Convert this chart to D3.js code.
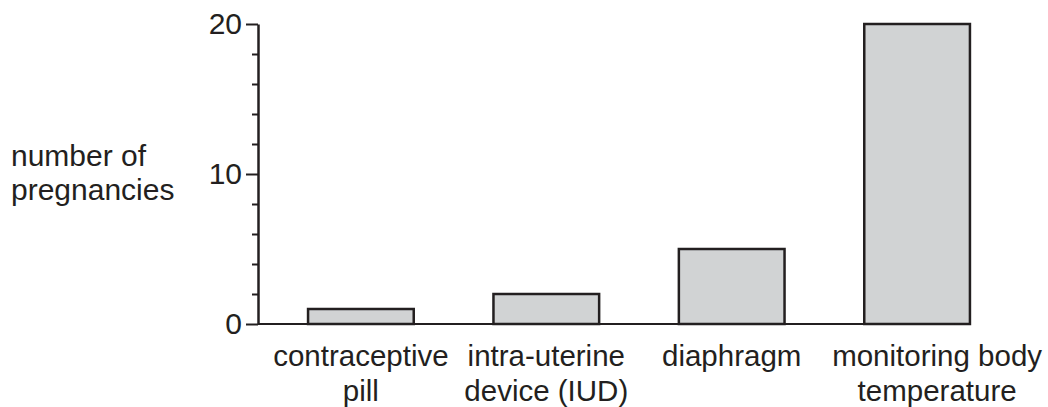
<!DOCTYPE html>
<html>
<head>
<meta charset="utf-8">
<script src="https://cdn.jsdelivr.net/npm/d3@7"></script>
<style>
  body { margin: 0; background: #fff; }
  svg text { font-family: "Liberation Sans", Arial, sans-serif; fill: #231f20; }
</style>
</head>
<body>
<div id="chart"></div>
<script>
// data
var methods = [
  ["contraceptive", "pill"],
  ["intra-uterine", "device (IUD)"],
  ["diaphragm"],
  ["monitoring body", "temperature"]
];
var pregnancies = [1, 2, 5, 20];
var yTicks = [0, 10, 20];
var yMinorTicks = [2, 4, 6, 8, 12, 14, 16, 18];
var yLabel = ["number of", "pregnancies"];

var width = 1048, height = 407;
var ink = "#231f20";

var svg = d3.select("#chart")
  .append("svg")
  .attr("width", width)
  .attr("height", height);

var x = d3.scaleBand()
  .domain(d3.range(methods.length))
  .range([258, 1020])
  .paddingInner(0.43)
  .paddingOuter(0.27);

var y = d3.scaleLinear()
  .domain([0, 20])
  .range([324, 24]);

// bars
svg.selectAll(".bar")
  .data(pregnancies)
  .enter()
  .append("rect")
  .attr("class", "bar")
  .attr("x", (d, i) => x(i))
  .attr("y", (d) => y(d))
  .attr("width", x.bandwidth())
  .attr("height", (d) => y(0) - y(d))
  .attr("fill", "#d1d3d4")
  .attr("stroke", ink)
  .attr("stroke-width", 2.5);

// x baseline
svg.append("line")
  .attr("x1", 258)
  .attr("x2", x(methods.length - 1) + x.bandwidth() * 0.85)
  .attr("y1", y(0))
  .attr("y2", y(0))
  .attr("stroke", ink)
  .attr("stroke-width", 2);

// y axis with major ticks
var yAxis = svg.append("g")
  .attr("transform", "translate(258,0)")
  .call(d3.axisLeft(y).tickValues(yTicks).tickSize(12).tickPadding(4).tickSizeOuter(0));
yAxis.select(".domain").attr("stroke", ink).attr("stroke-width", 2.5);
yAxis.selectAll(".tick line").attr("stroke", ink).attr("stroke-width", 2);
yAxis.selectAll(".tick text")
  .style("font-size", "30px")
  .attr("fill", ink);

// minor ticks
svg.append("g")
  .attr("transform", "translate(258,0)")
  .call(d3.axisLeft(y).tickValues(yMinorTicks).tickSize(6).tickFormat(""))
  .call((g) => g.select(".domain").remove())
  .selectAll(".tick line")
  .attr("stroke", ink)
  .attr("stroke-width", 2);

// category labels
svg.selectAll(".cat")
  .data(methods)
  .enter()
  .append("text")
  .attr("class", "cat")
  .attr("text-anchor", "middle")
  .style("font-size", "29.5px")
  .attr("x", (d, i) => x(i) + x.bandwidth() / 2 + (i === methods.length - 1 ? 20 : 0))
  .attr("y", 366)
  .selectAll("tspan")
  .data((d) => d)
  .enter()
  .append("tspan")
  .attr("x", function () { return this.parentNode.getAttribute("x"); })
  .attr("dy", (d, j) => (j === 0 ? 0 : 35))
  .text((d) => d);

// y axis label
svg.append("text")
  .attr("x", 11)
  .attr("y", 166)
  .style("font-size", "30px")
  .selectAll("tspan")
  .data(yLabel)
  .enter()
  .append("tspan")
  .attr("x", 11)
  .attr("dy", (d, j) => (j === 0 ? 0 : 34))
  .text((d) => d);
</script>
</body>
</html>
